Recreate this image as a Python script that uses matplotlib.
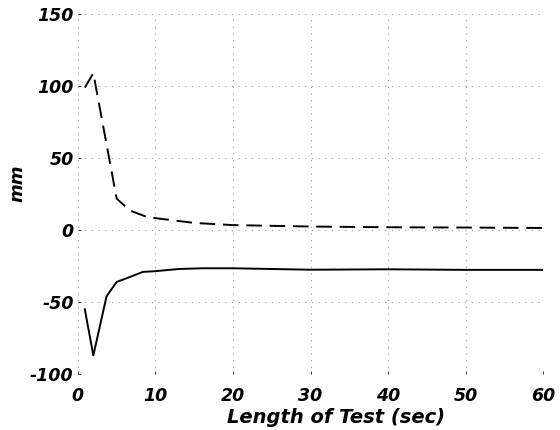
import matplotlib
matplotlib.use("Agg")
from matplotlib import pyplot as plt

plt.rcParams['font.family'] = ['DejaVu Sans']
plt.rcParams['axes.unicode_minus'] = False

# upper (dashed) trace
t_upper = [0.9, 2, 5, 6, 7, 9, 12, 15, 20, 25, 30, 40, 50, 60]
mm_upper = [99, 109, 22, 17, 13, 9, 7, 5, 3.5, 3, 2.5, 2, 1.8, 1.5]

# lower (solid) trace
t_lower = [0.9, 2, 3.7, 5, 6, 8.4, 10, 13, 16, 20, 30, 40, 50, 60]
mm_lower = [-55, -87, -46, -36, -34, -29, -28.5, -27, -26.5, -26.5, -27.5, -27.2, -27.6, -27.6]

xticks = [0, 10, 20, 30, 40, 50, 60]
yticks = [-100, -50, 0, 50, 100, 150]

fig = plt.figure(figsize=(5.6, 4.3), dpi=100)
ax = fig.add_axes([0.139, 0.130, 0.831, 0.837])

ax.plot(t_upper, mm_upper, color='black', linewidth=1.4, linestyle=(0, (8, 4)))
ax.plot(t_lower, mm_lower, color='black', linewidth=1.4)

ax.set_xlim(0, 60)
ax.set_ylim(-100, 150)
ax.set_xticks(xticks)
ax.set_yticks(yticks)
ax.grid(True, linestyle=(0, (1, 5)), color='#999999', linewidth=0.8)
for s in ax.spines.values():
    s.set_visible(False)
ax.tick_params(direction='in', length=2, width=0.5, labelsize=12.5)
ax.tick_params(axis='x', pad=9)
ax.tick_params(axis='y', pad=3)
for lab in ax.get_xticklabels() + ax.get_yticklabels():
    lab.set_fontweight('bold')
    lab.set_fontstyle('italic')

ax.set_xlabel('Length of Test (sec)', fontsize=14, fontweight='bold',
              fontstyle='italic')
ax.xaxis.set_label_coords(0.555, -0.093)
ax.set_ylabel('mm', fontsize=13, fontweight='bold', fontstyle='italic')
ax.yaxis.set_label_coords(-0.11, 0.53)

fig.savefig('out.png', dpi=100)
